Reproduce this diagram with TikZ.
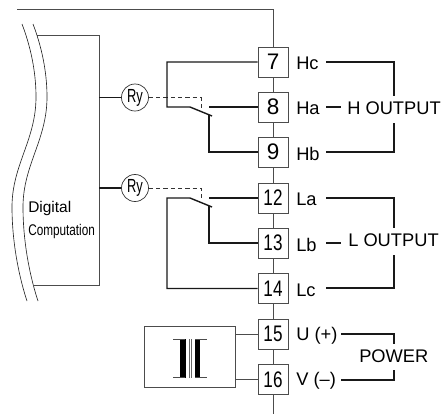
\documentclass[tikz,border=0pt]{standalone}
\usepackage{fontspec}
\setmainfont{Liberation Sans}
\usetikzlibrary{positioning}
\definecolor{linegray}{gray}{0.3}
\tikzset{
    terminal/.style={draw=linegray, line width=0.6pt, minimum size=0.75cm, inner sep=0pt, font=\fontsize{16}{18}\selectfont},
    pinlabel/.style={anchor=west, inner sep=0pt, font=\fontsize{13}{15}\selectfont},
    relay/.style={draw=black!80, line width=0.5pt, circle, minimum size=0.675cm, inner sep=0pt, font=\fontsize{13.5}{15}\selectfont},
    wire/.style={line width=1pt, black!90},
    bus/.style={line width=0.6pt, linegray},
    ctrl/.style={line width=0.5pt, black!80, dashed, dash pattern=on 3pt off 2.2pt}
}
\newcommand{\narrow}[2]{\scalebox{#1}[1]{#2}}
\begin{document}
\begin{tikzpicture}[x=0.025cm, y=-0.025cm]
    \useasboundingbox (0,0) rectangle (444,414);

    % Terminals
    \node[terminal] (t7) at (273,62) {7};
    \node[terminal] (t8) at (273,107) {8};
    \node[terminal] (t9) at (273,152) {9};
    \node[terminal] (t12) at (273,198) {\narrow{0.76}{12}};
    \node[terminal] (t13) at (273,243) {\narrow{0.76}{13}};
    \node[terminal] (t14) at (273,288.5) {\narrow{0.76}{14}};
    \node[terminal] (t15) at (273,334) {\narrow{0.76}{15}};
    \node[terminal] (t16) at (273,379.5) {\narrow{0.76}{16}};

    % Bus through the terminals
    \coordinate (busstart) at (17,9);
    \coordinate (busend) at (273,414);
    \draw[bus] (busstart) -| (t7.north);
    \draw[bus] (t7) -- (t8);
    \draw[bus] (t8) -- (t9);
    \draw[bus] (t9) -- (t12);
    \draw[bus] (t12) -- (t13);
    \draw[bus] (t13) -- (t14);
    \draw[bus] (t14) -- (t15);
    \draw[bus] (t15) -- (t16);
    \draw[bus] (t16) -- (busend);

    % Terminal names
    \node[pinlabel] (hc) at (296,63) {Hc};
    \node[pinlabel] (ha) at (296,108) {Ha};
    \node[pinlabel] (hb) at (296,154) {Hb};
    \node[pinlabel] (la) at (296,199) {La};
    \node[pinlabel] (lb) at (296,245) {Lb};
    \node[pinlabel] (lc) at (296,290) {Lc};
    \node[pinlabel] (u) at (296,336) {U (+)};
    \node[pinlabel] (v) at (296,381) {V (--)};

    % Output names
    \node[pinlabel] (hout) at (347,108) {H OUTPUT};
    \node[pinlabel] (lout) at (348,240) {L OUTPUT};
    \node[pinlabel] (power) at (359,356) {POWER};

    % H output bracket
    \coordinate (hcs) at (326,62);
    \coordinate (hbs) at (326,152);
    \coordinate (has) at (326,107);
    \coordinate (hae) at (341,107);
    \coordinate (hup) at (394,96);
    \coordinate (hdn) at (394,123);
    \draw[wire] (hcs) -| (hup);
    \draw[wire] (hbs) -| (hdn);
    \draw[wire] (has) -- (hae);

    % L output bracket
    \coordinate (las) at (326,198);
    \coordinate (lcs) at (326,288);
    \coordinate (lbs) at (326,243);
    \coordinate (lbe) at (341,243);
    \coordinate (lup) at (394,228);
    \coordinate (ldn) at (394,255);
    \draw[wire] (las) -| (lup);
    \draw[wire] (lcs) -| (ldn);
    \draw[wire] (lbs) -- (lbe);

    % Power bracket
    \coordinate (us) at (341,334);
    \coordinate (vs) at (341,380);
    \coordinate (pup) at (394,344);
    \coordinate (pdn) at (394,370);
    \draw[wire] (us) -| (pup);
    \draw[wire] (vs) -| (pdn);

    % Digital block
    \coordinate (blocktop) at (37,35);
    \coordinate (blockbot) at (34,285);
    \coordinate (blockcorner) at (99,35);
    \draw[bus] (blocktop) -- (blockcorner) -- (99,285) -- (blockbot);
    \draw[line width=0.45pt, black!85] (22,24) .. controls (30,45) and (36,70) .. (36,97)
        .. controls (36,140) and (12,165) .. (12,207) .. controls (12,245) and (20,280) .. (27,301);
    \draw[line width=0.45pt, black!85] (33,24) .. controls (41,45) and (47,70) .. (47,97)
        .. controls (47,140) and (23,165) .. (23,207) .. controls (23,245) and (31,280) .. (38,301);
    \node[anchor=west, inner sep=0pt, font=\fontsize{11}{13}\selectfont] (digital) at (28,208) {Digital};
    \node[anchor=west, inner sep=0pt, font=\fontsize{11}{13}\selectfont] (comp) at (28,231) {\narrow{0.76}{Computation}};

    % Relays
    \node[relay] (ry1) at (135,97.5) {\narrow{0.68}{Ry}};
    \node[relay] (ry2) at (135,188) {\narrow{0.68}{Ry}};
    \coordinate (blockh) at (99,97.5);
    \coordinate (blockl) at (99,188);
    \draw[wire] (blockh) -- (ry1);
    \draw[wire] (blockl) -- (ry2);
    \coordinate (ctrlh) at (201,108);
    \coordinate (ctrll) at (201,198);
    \draw[ctrl] (ry1) -- (ry1 -| ctrlh) -- (ctrlh);
    \draw[ctrl] (ry2) -- (ry2 -| ctrll) -- (ctrll);

    % H contacts
    \coordinate (hleft) at (167,107);
    \coordinate (hblade) at (190,107);
    \coordinate (hfree) at (212,116);
    \coordinate (hpole) at (209,114.5);
    \coordinate (hfix) at (209,107);
    \draw[wire] (t7.west) -| (hleft) -- (hblade) -- (hfree);
    \draw[wire] (t8.west) -- (hfix);
    \draw[wire] (t9.west) -| (hpole);

    % L contacts
    \coordinate (lleft) at (167,198);
    \coordinate (lblade) at (190,198);
    \coordinate (lfree) at (212,207);
    \coordinate (lpole) at (209,205.5);
    \coordinate (lfix) at (209,198);
    \draw[wire] (t14.west) -| (lleft) -- (lblade) -- (lfree);
    \draw[wire] (t12.west) -- (lfix);
    \draw[wire] (t13.west) -| (lpole);

    % Transformer
    \node[draw=linegray, line width=0.6pt, minimum width=2.275cm, minimum height=1.525cm, inner sep=0pt] (trafo) at (189.5,356.5) {};
    \draw[bus] (t15.west) -- (t15.west -| trafo.east);
    \draw[bus] (t16.west) -- (t16.west -| trafo.east);
    \fill[black] (180,339) rectangle (185.5,378);
    \fill[black] (194.5,339) rectangle (200,378);
    \draw[bus] (173,339.3) -- (185,339.3);
    \draw[bus] (173,377.7) -- (185,377.7);
    \draw[bus] (195,339.3) -- (207,339.3);
    \draw[bus] (195,377.7) -- (207,377.7);
    \draw[line width=0.4pt, black!60] (189,339) -- (189,378);
    \draw[line width=0.4pt, black!60] (191,339) -- (191,378);
\end{tikzpicture}
\end{document}
